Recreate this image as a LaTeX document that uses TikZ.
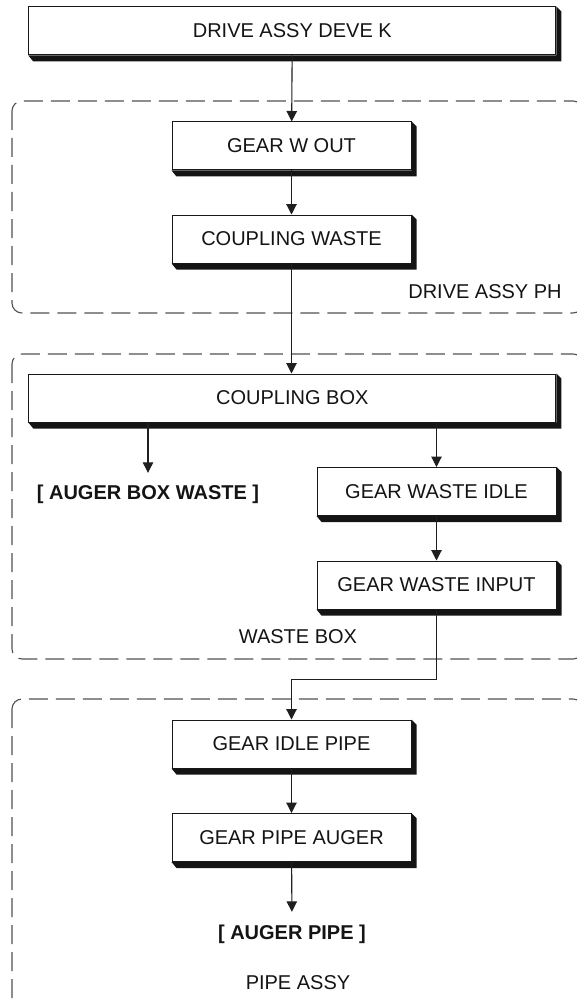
\documentclass[tikz,border=0pt]{standalone}
\usepackage{fontspec}
\setmainfont{Liberation Sans}
\usetikzlibrary{arrows.meta,calc}
\newcommand\boxshadow[1]{\fill[black!92] (#1.north east) -- ++(5,5) -- ($(#1.south east)+(5,6)$) -- ($(#1.south west)+(5,6)$) -- (#1.south west) -- (#1.south east) -- cycle;}
\begin{document}
\begin{tikzpicture}[x=1pt,y=-1pt,
  box/.style={draw=black!90, line width=1pt, fill=white, minimum height=48pt, inner sep=0pt,
    font=\fontsize{20}{24}\selectfont, text=black!92},
  widebox/.style={box, minimum width=527pt},
  midbox/.style={box, minimum width=239pt},
  boldlbl/.style={inner xsep=0pt, text height=14pt, text depth=0pt,
    font=\fontsize{20}{24}\selectfont\bfseries, text=black!92},
  grplbl/.style={inner sep=0pt, font=\fontsize{20}{24}\selectfont, text=black!92},
  grp/.style={draw=black!68, line width=1.1pt, dash pattern=on 19pt off 8pt, rounded corners=10pt},
  arr/.style={draw=black!88, line width=1.1pt, -{Triangle[width=10.5pt,length=10.5pt]}}]
\useasboundingbox (0,0) rectangle (577,1003);
% groups
\draw[grp] (12,101) rectangle (583,313);
\draw[grp] (12,354) rectangle (583,659);
\draw[grp] (12,699) rectangle (583,1008);
% nodes
\node[widebox] (top) at (292.3,31) {DRIVE ASSY DEVE K};
\node[midbox] (gwo) at (291.5,146) {GEAR W OUT};
\node[midbox] (cw) at (291.5,239) {COUPLING WASTE};
\node[widebox] (cb) at (292.3,398) {COUPLING BOX};
\node[boldlbl, inner ysep=12pt] (abw) at (148,492) {[ AUGER BOX WASTE ]};
\node[midbox] (gwid) at (436.5,491.5) {GEAR WASTE IDLE};
\node[midbox] (gwin) at (436.5,585) {GEAR WASTE INPUT};
\node[midbox] (gip) at (291.5,744) {GEAR IDLE PIPE};
\node[midbox] (gpa) at (291.5,837.5) {GEAR PIPE AUGER};
\node[boldlbl, inner ysep=13pt] (ap) at (292,932) {[ AUGER PIPE ]};
\node[grplbl] (l1) at (485,292) {DRIVE ASSY PH};
\node[grplbl] (l2) at (298,637) {WASTE BOX};
\node[grplbl] (l3) at (298,983) {PIPE ASSY};
% shadows
\foreach \n in {top,gwo,cw,cb,gwid,gwin,gip,gpa} {\boxshadow{\n}}
% connectors
\draw[arr] (top) -- (gwo);
\draw[arr] (gwo) -- (cw);
\draw[arr] (cw) -- (cb.north -| cw.south);
\draw[arr] (cb.south -| abw.north) -- (abw.north);
\draw[arr] (cb.south -| gwid.north) -- (gwid.north);
\draw[arr] (gwid) -- (gwin);
\draw[arr] (gwin.south) -- ++(0,70) -| (gip.north);
\draw[arr] (gip) -- (gpa);
\draw[arr] (gpa) -- (ap);
\end{tikzpicture}
\end{document}
